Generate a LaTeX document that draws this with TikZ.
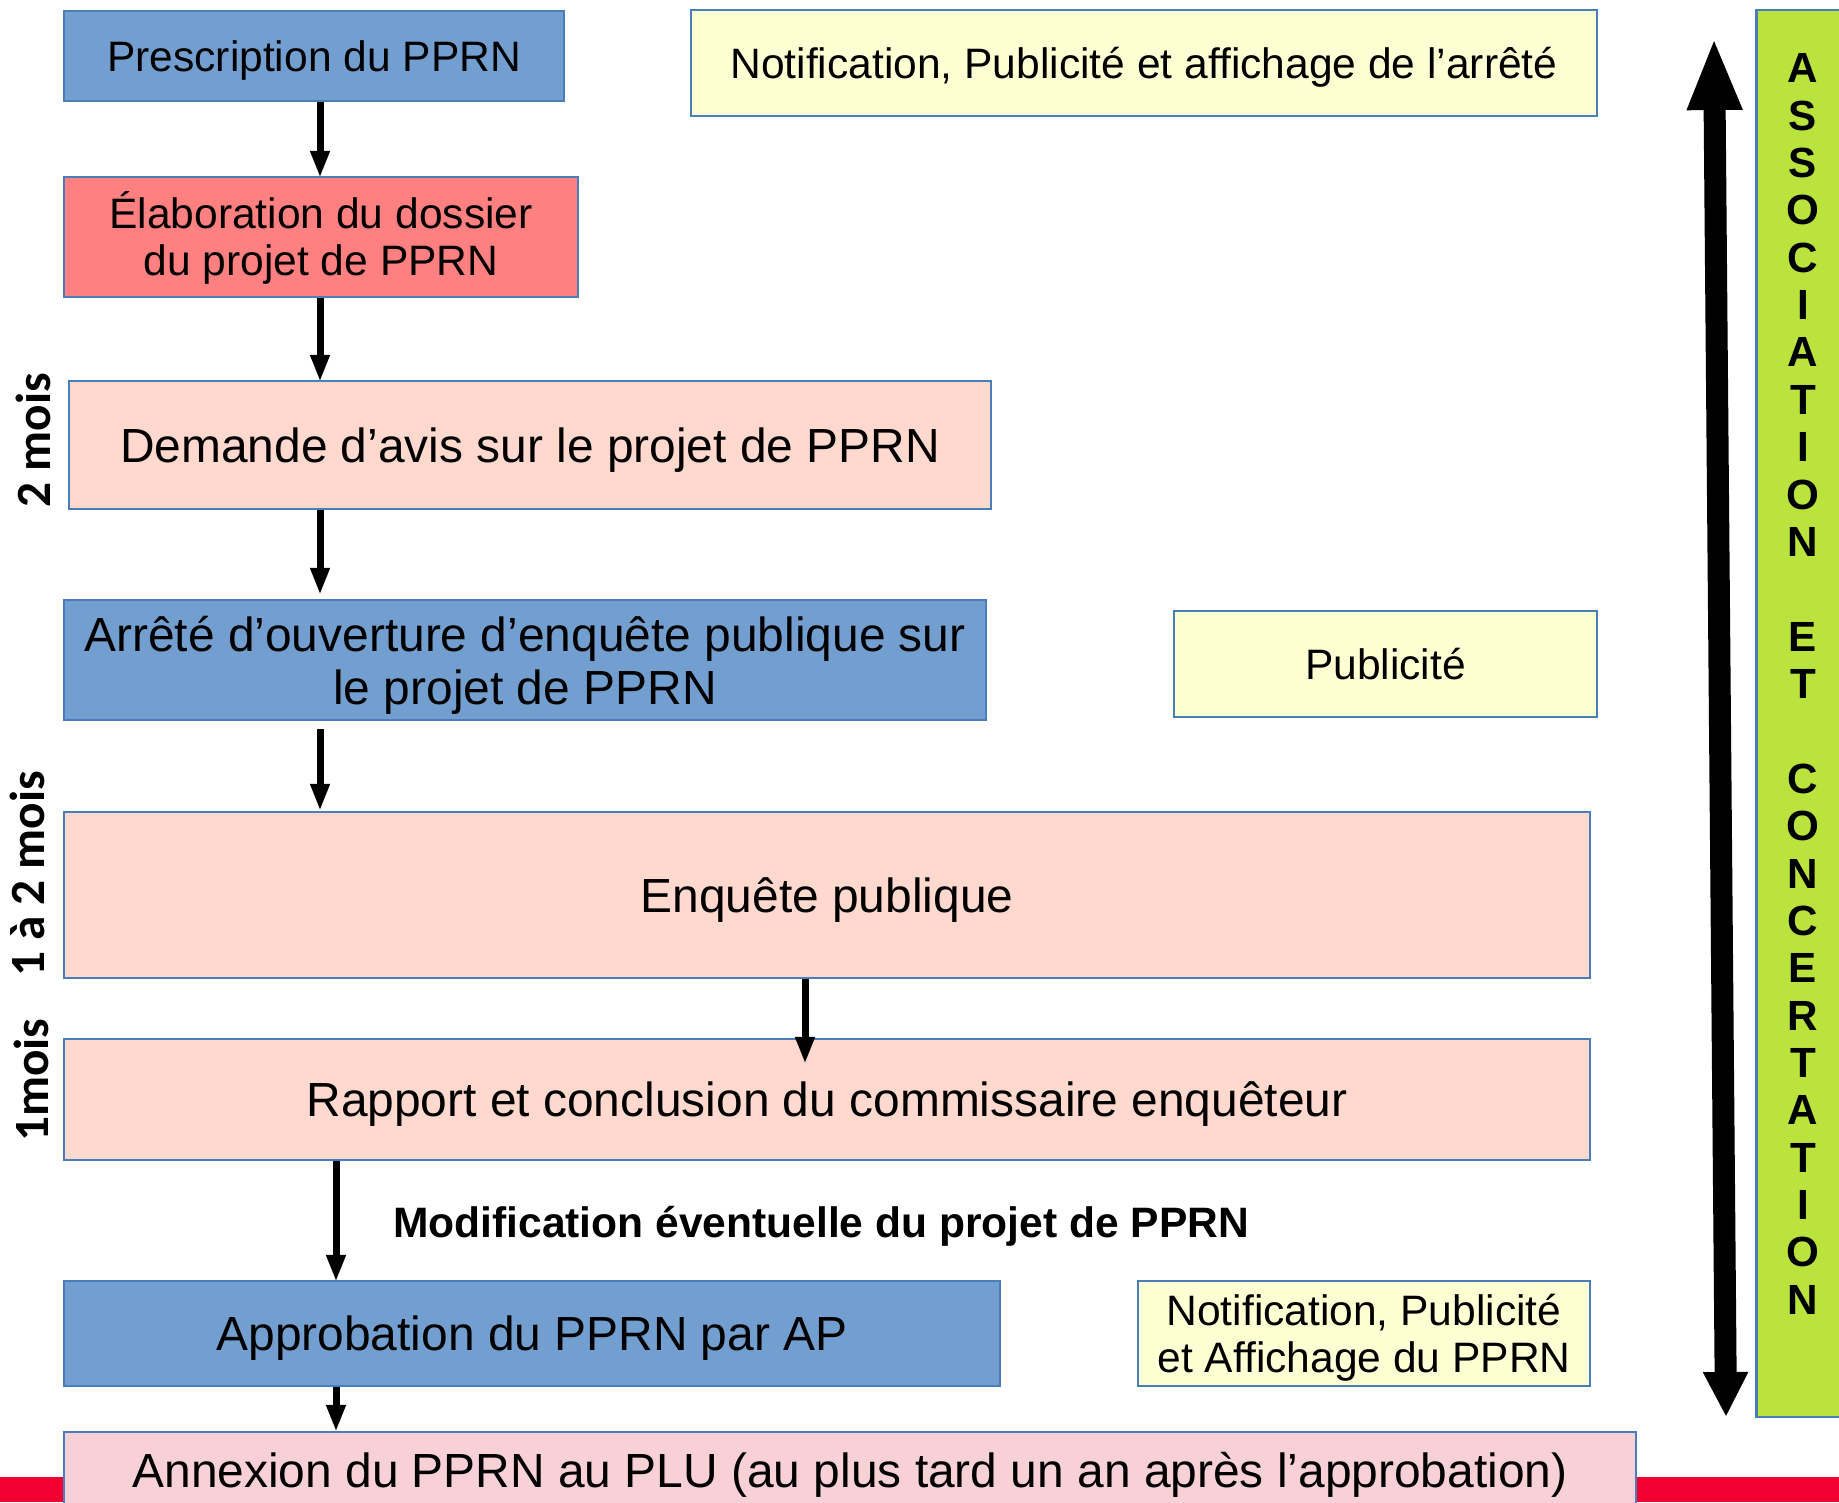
\documentclass[tikz,border=0pt]{standalone}
\usepackage{fontspec}
\setmainfont{Liberation Sans}
\newfontfamily\condfont{Carlito}
\usetikzlibrary{arrows.meta}
\definecolor{bleu}{HTML}{729FCF}
\definecolor{bord}{HTML}{4A7EBB}
\definecolor{saumon}{HTML}{FF8080}
\definecolor{peche}{HTML}{FFD8CE}
\definecolor{rose}{HTML}{F7D1D6}
\definecolor{jaune}{HTML}{FFFFD4}
\definecolor{vert}{HTML}{BBE33D}
\definecolor{rouge}{HTML}{F2002F}

\begin{document}
\begin{tikzpicture}[x=0.01cm, y=-0.01cm,
  box/.style={rectangle, draw=bord, line width=0.6pt, inner sep=0pt,
              align=center, text depth=0pt, font=\fontsize{12.1}{13.4}\selectfont},
  bigbox/.style={box, font=\fontsize{13.62}{15.1}\selectfont},
  arr/.style={-{Triangle[width=0.18cm,length=0.27cm]}, line width=0.07cm},
  duree/.style={rotate=90, inner sep=0pt,
                font=\condfont\bfseries\fontsize{14}{16}\selectfont}
]
  \useasboundingbox (0,0) rectangle (1839,1502);
  \clip (0,0) rectangle (1839,1502);
  % bande rouge du bas
  \fill[rouge] (0,1477) rectangle (1839,1502);

  \node[box, fill=bleu, minimum width=4.99cm, minimum height=0.905cm]
    (presc) at (314,56) {Prescription du PPRN};
  \node[box, fill=jaune, minimum width=9.06cm, minimum height=1.055cm]
    (notif) at (1144,63) {Notification, Publicité et affichage de l’arrêté};
  \node[box, fill=saumon, minimum width=5.135cm, minimum height=1.2cm, text depth=0.07cm]
    (elab) at (321,237) {Élaboration du dossier\\du projet de PPRN};
  \node[bigbox, fill=peche, minimum width=9.22cm, minimum height=1.28cm]
    (avis) at (530,445) {Demande d’avis sur le projet de PPRN};
  \node[bigbox, fill=bleu, minimum width=9.215cm, minimum height=1.2cm]
    (arrete) at (525,660) {Arrêté d’ouverture d’enquête publique sur\\le projet de PPRN};
  \node[box, fill=jaune, minimum width=4.23cm, minimum height=1.06cm]
    (pub) at (1385.5,664) {Publicité};
  \node[bigbox, fill=peche, minimum width=15.255cm, minimum height=1.66cm]
    (enq) at (827,895) {Enquête publique};
  \node[bigbox, fill=peche, minimum width=15.255cm, minimum height=1.21cm]
    (rapport) at (827,1099.5) {Rapport et conclusion du commissaire enquêteur};
  \node[font=\bfseries\fontsize{12.1}{14}\selectfont]
    (modif) at (821,1226.5) {Modification éventuelle du projet de PPRN};
  \node[bigbox, fill=bleu, minimum width=9.355cm, minimum height=1.05cm]
    (approb) at (532,1333.5) {Approbation du PPRN par AP};
  \node[box, fill=jaune, minimum width=4.52cm, minimum height=1.05cm]
    (notif2) at (1364,1333.5) {Notification, Publicité\\et Affichage du PPRN};
  \node[bigbox, fill=rose, minimum width=15.715cm, minimum height=0.76cm]
    (annex) at (850,1470) {Annexion du PPRN au PLU (au plus tard un an après l’approbation)};

  % durees
  \node[duree] (d1) at (33,440) {2 mois};
  \node[duree] (d2) at (27,874) {1 à 2 mois};
  \node[duree] (d3) at (31,1080) {1mois};

  % association et concertation
  \node[rectangle, draw=bord, line width=0.6pt, fill=vert,
        minimum width=1.03cm, minimum height=14.07cm] (assoc) at (1808,713.5) {};
  \node[anchor=north, inner sep=0pt, align=center,
        font=\bfseries\fontsize{12}{13.47}\selectfont] (assoctxt) at (1803,53)
    {A\\S\\S\\O\\C\\I\\A\\T\\I\\O\\N\\~\\E\\T\\~\\C\\O\\N\\C\\E\\R\\T\\A\\T\\I\\O\\N};
  \coordinate (flhaut) at (1714,37);
  \coordinate (flbas) at (1726,1417);
  \draw[line width=0.22cm,
        {Triangle[width=0.5cm,length=0.73cm]}-{Triangle[width=0.42cm,length=0.45cm]}]
    (flhaut) -- (flbas);

  % fleches
  \coordinate (c1) at (320,0);
  \coordinate (c2) at (805,0);
  \coordinate (c3) at (336,0);
  \draw[arr, shorten >=-0.02cm] (presc.south -| c1) -- (elab.north -| c1);
  \draw[arr, shorten >=-0.02cm] (elab.south -| c1) -- (avis.north -| c1);
  \draw[arr, shorten >=0.04cm] (avis.south -| c1) -- (arrete.north -| c1);
  \draw[arr, shorten <=0.08cm] (arrete.south -| c1) -- (enq.north -| c1);
  \draw[arr, shorten >=-0.26cm] (enq.south -| c2) -- (rapport.north -| c2);
  \draw[arr, shorten >=-0.02cm] (rapport.south -| c3) -- (approb.north -| c3);
  \draw[arr, shorten >=-0.01cm] (approb.south -| c3) -- (annex.north -| c3);
\end{tikzpicture}
\end{document}
